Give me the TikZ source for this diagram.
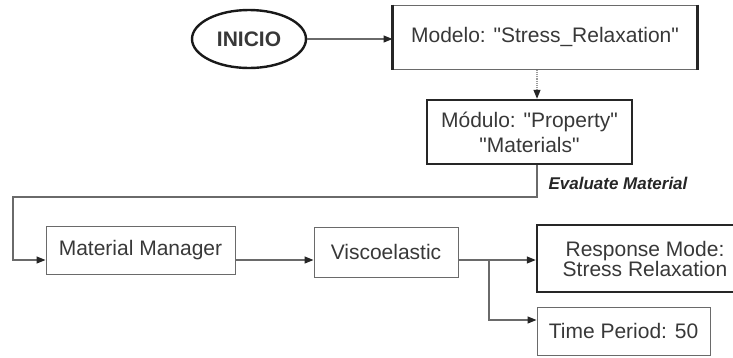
\documentclass[tikz,border=0pt]{standalone}
\usepackage{fontspec}
\setmainfont{Liberation Sans}
\usetikzlibrary{shapes.geometric,arrows.meta}

\definecolor{inkgray}{HTML}{383838}
\definecolor{linegray}{HTML}{6A6A6A}
\definecolor{palegray}{HTML}{9A9A9A}

\tikzset{
  box/.style={draw=linegray, line width=1pt, inner sep=0pt, text=inkgray,
    align=center, font=\fontsize{21}{22}\selectfont},
  heavybox/.style={box, draw=black!85, line width=2.4pt},
  startnode/.style={ellipse, draw=black!90, line width=2.4pt, inner sep=0pt,
    text=inkgray, font=\bfseries\fontsize{21}{22}\selectfont},
  link/.style={draw=linegray, line width=1.2pt,
    -{Triangle[length=9pt,width=7pt,color=black!85]}},
}

\newcommand{\qq}{\textquotedbl}

\begin{document}
\begin{tikzpicture}[x=1pt, y=-1pt]
  \useasboundingbox (0,0) rectangle (733,357);

  % Top
  \node[startnode, minimum width=114, minimum height=58] (inicio) at (249,39) {INICIO};
  \node[box, minimum width=304, minimum height=64] (modelo) at (545,37) {Modelo: \qq Stress\_Relaxation\qq};
  \draw[line width=3pt, black!85] (modelo.north west) -- (modelo.south west)
    (modelo.north east) -- (modelo.south east);
  \node[heavybox, minimum width=205, minimum height=64, font=\fontsize{21}{25}\selectfont]
    (modulo) at (529.5,132) {Módulo: \qq Property\qq\\\qq Materials\qq};
  \node[anchor=west, text=black!85, font=\bfseries\itshape\fontsize{17}{17}\selectfont]
    (evalmat) at (545,183) {Evaluate Material};

  % Bottom row
  \node[box, minimum width=189, minimum height=48] (matman) at (140.5,250.5) {Material Manager};
  \node[box, minimum width=144, minimum height=50] (visco) at (386,252) {Viscoelastic};
  \node[heavybox, minimum width=216, minimum height=67, font=\fontsize{21}{20}\selectfont]
    (resp) at (645,258.5) {Response Mode:\\Stress Relaxation};
  \node[box, minimum width=173, minimum height=48] (timep) at (623.5,331) {Time Period: 50};

  % Connectors
  \coordinate (stem) at (537,197);
  \coordinate (loopend) at (13,197);
  \coordinate (rowline) at (0,260);
  \coordinate (branch) at (489,260);
  \coordinate (lowline) at (0,320);

  \draw[link] (inicio.east) -- (inicio.east -| modelo.west);
  \draw[link, draw=palegray, densely dotted] (modelo.south -| stem) -- (modulo.north -| stem);
  \draw[link] (modulo.south -| stem) -- (stem) -- (loopend) |- (matman.west |- rowline);
  \draw[link] (matman.east |- rowline) -- (visco.west |- rowline);
  \draw[link] (visco.east |- branch) -- (resp.west |- branch);
  \draw[link] (branch) |- (timep.west |- lowline);
\end{tikzpicture}
\end{document}
